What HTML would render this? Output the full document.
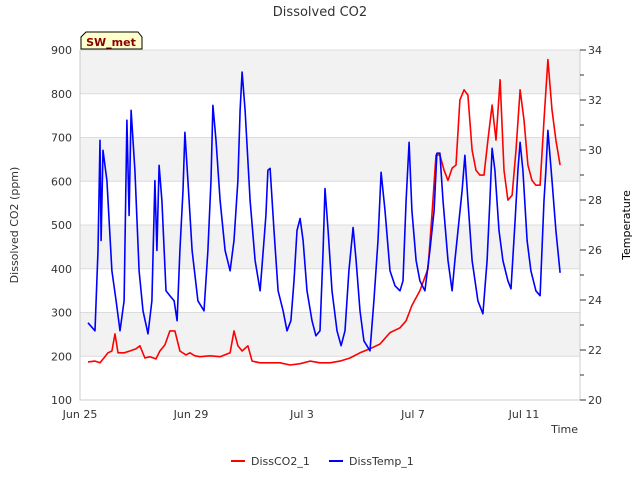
<!DOCTYPE html>
<html><head><meta charset="utf-8"><style>
body{margin:0;background:#fff;font-family:"Liberation Sans","DejaVu Sans",sans-serif;}
svg text{font-family:"DejaVu Sans","Liberation Sans",sans-serif;}
</style></head><body>
<svg id="chart" width="640" height="480" viewBox="0 0 640 480" xmlns="http://www.w3.org/2000/svg">
<text x="320" y="16" text-anchor="middle" font-size="13" fill="#333">Dissolved CO2</text>
<g id="bands"></g><g id="grid"></g><g id="axes"></g><g id="series"></g>
<text transform="translate(18,225) rotate(-90)" text-anchor="middle" font-size="11" fill="#333">Dissolved CO2 (ppm)</text>
<text transform="translate(630,225) rotate(-90)" text-anchor="middle" font-size="11" fill="#000">Temperature</text>
<text x="578" y="433" text-anchor="end" font-size="11" fill="#333">Time</text>
<g>
<path d="M81,49 L81,37 L86,32 L138,32 L142,37 L142,49 Z" fill="#ffffcc" stroke="#000" stroke-width="1"/>
<text x="111" y="46" text-anchor="middle" font-size="11" font-weight="bold" fill="#8b0000">SW_met</text>
</g>
<g>
<g><line x1="231" y1="461" x2="245" y2="461" stroke="#f00" stroke-width="2"/><text x="251" y="465" font-size="11" fill="#333">DissCO2_1</text></g>
<g><line x1="329" y1="461" x2="343" y2="461" stroke="#00f" stroke-width="2"/><text x="349" y="465" font-size="11" fill="#333">DissTemp_1</text></g>
</g>
</svg>
<script>
// days since Jun 25 00:00
const tempDays=[0.29,0.54,0.65,0.72,0.76,0.83,0.97,1.15,1.30,1.44,1.59,1.69,1.77,1.84,1.98,2.13,2.27,2.45,2.59,2.70,2.77,2.85,2.95,3.10,3.24,3.39,3.50,3.60,3.71,3.78,3.89,4.04,4.25,4.47,4.61,4.72,4.79,4.90,5.05,5.23,5.41,5.55,5.69,5.77,5.84,5.95,6.13,6.31,6.49,6.63,6.70,6.77,6.85,6.99,7.14,7.32,7.46,7.60,7.71,7.82,7.93,8.04,8.18,8.36,8.50,8.65,8.76,8.83,8.94,9.08,9.26,9.41,9.55,9.69,9.84,9.95,10.09,10.23,10.45,10.59,10.74,10.85,10.99,11.17,11.35,11.53,11.64,11.75,11.86,11.96,12.11,12.25,12.43,12.61,12.76,12.86,12.97,13.08,13.26,13.41,13.51,13.62,13.77,13.87,13.98,14.13,14.34,14.52,14.67,14.77,14.85,14.95,15.10,15.24,15.42,15.53,15.68,15.78,15.86,15.96,16.11,16.25,16.43,16.58,16.72,16.79,16.86,17.01,17.15,17.30];
const tempValues=[23.09,22.77,25.98,30.39,26.38,29.99,28.78,25.17,23.97,22.77,23.97,31.19,27.38,31.59,29.19,25.17,23.57,22.65,23.97,28.78,25.98,29.39,27.98,24.37,24.17,23.97,23.17,25.98,28.38,30.71,28.78,25.98,23.97,23.57,25.98,28.78,31.79,30.39,27.98,25.98,25.17,26.38,28.78,31.59,33.12,31.59,27.98,25.58,24.37,26.38,27.38,29.19,29.27,26.78,24.37,23.57,22.77,23.17,24.77,26.78,27.26,26.38,24.37,23.17,22.57,22.77,25.98,28.46,26.78,24.37,22.77,22.17,22.77,25.17,26.90,25.58,23.57,22.37,21.97,23.97,26.38,29.11,27.58,25.17,24.57,24.37,24.77,27.98,30.31,27.58,25.58,24.77,24.37,25.98,27.58,29.87,29.87,27.98,25.58,24.37,25.58,26.78,28.38,29.79,27.98,25.58,23.97,23.45,25.58,27.98,30.07,29.19,26.78,25.58,24.77,24.45,27.18,29.19,30.31,29.19,26.38,25.17,24.37,24.17,27.98,29.19,30.79,28.78,26.78,25.09];
const co2Days=[0.29,0.54,0.72,0.86,1.01,1.15,1.26,1.37,1.59,1.80,2.02,2.16,2.34,2.52,2.74,2.88,3.06,3.24,3.42,3.60,3.82,3.96,4.14,4.32,4.68,5.05,5.41,5.55,5.69,5.84,6.05,6.20,6.49,6.85,7.21,7.57,7.93,8.29,8.65,9.01,9.37,9.73,10.09,10.45,10.81,11.17,11.53,11.75,11.96,12.25,12.54,12.68,12.83,12.97,13.12,13.26,13.41,13.55,13.69,13.84,13.98,14.13,14.27,14.41,14.56,14.70,14.85,14.99,15.14,15.28,15.42,15.57,15.71,15.86,16.00,16.14,16.29,16.43,16.58,16.72,16.86,17.01,17.15,17.30];
const co2Values=[187,189,185,196,208,212,251,208,208,212,217,224,196,199,194,212,226,258,258,212,203,208,201,199,201,199,208,258,224,212,224,189,185,185,185,180,183,189,185,185,189,196,208,217,228,254,265,281,316,350,400,522,660,660,625,602,630,637,786,809,797,671,625,614,614,694,774,694,832,625,557,568,671,809,740,637,602,591,591,740,878,763,694,637];
const xTickDays=[0,4,8,12,16];
const xTickLabels=["Jun 25","Jun 29","Jul 3","Jul 7","Jul 11"];
const yTicks=[100,200,300,400,500,600,700,800,900];
const y2Ticks=[20,22,24,26,28,30,32,34];

const L=80,R=580,T=50,B=400;
const xDay=d=>L+d*27.75;
const yL=v=>B-(v-100)/800*(B-T);
const yR=v=>B-(v-20)/14*(B-T);
const NS="http://www.w3.org/2000/svg";
function mk(tag,attrs,parent){const e=document.createElementNS(NS,tag);for(const k in attrs)e.setAttribute(k,attrs[k]);document.getElementById(parent).appendChild(e);return e;}

for(let v=200;v<900;v+=200){
  const b=mk('rect',{x:L,y:yL(v+100),width:R-L,height:yL(v)-yL(v+100),fill:'#f2f2f2'},'bands');
  
  
}
yTicks.forEach(v=>{
  const g=mk('line',{x1:L,x2:R,y1:yL(v),y2:yL(v),stroke:'#dcdcdc','stroke-width':1},'grid');
  
  
  const t=mk('text',{x:L-8,y:yL(v)+4,'text-anchor':'end','font-size':11,fill:'#333'},'axes');
  
  
  t.textContent=v;
});
const ax=mk('path',{d:`M${L},${T} L${L},${B} L${R},${B} L${R},${T}`,fill:'none',stroke:'#ccc','stroke-width':1},'axes');


for(let v=20;v<=34;v++){
  const tk=mk('line',{x1:R,x2:R+(v%2?4:6),y1:yR(v),y2:yR(v),stroke:'#333','stroke-width':1},'axes');
  
  
}
y2Ticks.forEach(v=>{
  const t=mk('text',{x:R+8,y:yR(v)+4,'font-size':11,fill:'#333'},'axes');
  
  
  t.textContent=v;
});
xTickDays.forEach((d,i)=>{
  const t=mk('text',{x:xDay(d),y:418,'text-anchor':'middle','font-size':11,fill:'#333'},'axes');
  
  
  t.textContent=xTickLabels[i];
});
const co2=mk('polyline',{points:co2Days.map((d,i)=>xDay(d).toFixed(1)+','+yL(co2Values[i]).toFixed(1)).join(' '),fill:'none',stroke:'#f00','stroke-width':1.6,'stroke-linejoin':'round'},'series');


const tmp=mk('polyline',{points:tempDays.map((d,i)=>xDay(d).toFixed(1)+','+yR(tempValues[i]).toFixed(1)).join(' '),fill:'none',stroke:'#00f','stroke-width':1.6,'stroke-linejoin':'round'},'series');


</script>
</body></html>
